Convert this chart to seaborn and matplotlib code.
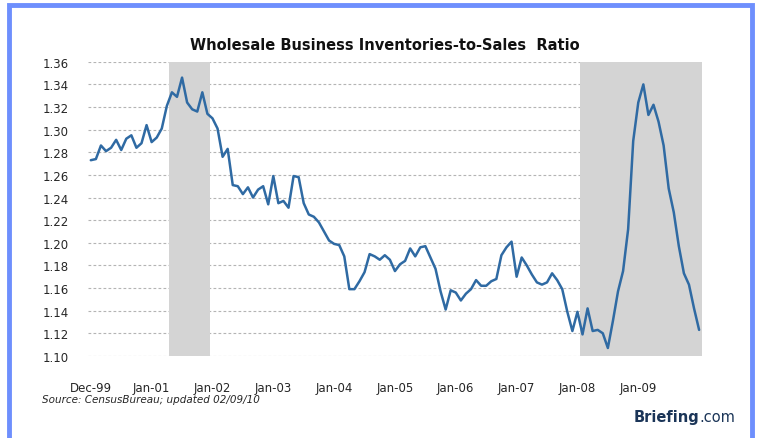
import numpy as np
import pandas as pd
import seaborn as sns
import matplotlib.pyplot as plt
from matplotlib.patches import Rectangle

# Monthly ratio, Dec-99 .. Dec-09
ratio = [
    1.273, 1.274, 1.286, 1.281, 1.284, 1.291, 1.282, 1.292, 1.295, 1.284,
    1.288, 1.304, 1.289, 1.293, 1.301, 1.321, 1.333, 1.329, 1.346, 1.324,
    1.318, 1.316, 1.333, 1.314, 1.310, 1.301, 1.276, 1.283, 1.251, 1.250,
    1.243, 1.249, 1.240, 1.247, 1.250, 1.234, 1.259, 1.235, 1.237, 1.231,
    1.259, 1.258, 1.235, 1.225, 1.223, 1.218, 1.210, 1.202, 1.199, 1.198,
    1.188, 1.159, 1.159, 1.166, 1.174, 1.190, 1.188, 1.185, 1.189, 1.185,
    1.175, 1.181, 1.184, 1.195, 1.188, 1.196, 1.197, 1.187, 1.177, 1.157,
    1.141, 1.158, 1.156, 1.149, 1.155, 1.159, 1.167, 1.162, 1.162, 1.166,
    1.168, 1.189, 1.196, 1.201, 1.170, 1.187, 1.180, 1.172, 1.165, 1.163,
    1.165, 1.173, 1.167, 1.159, 1.139, 1.122, 1.139, 1.119, 1.142, 1.122,
    1.123, 1.120, 1.107, 1.131, 1.157, 1.175, 1.212, 1.290, 1.324, 1.340,
    1.313, 1.322, 1.307, 1.286, 1.248, 1.227, 1.197, 1.173, 1.163, 1.142,
    1.123,
]
months = pd.date_range("1999-12-01", periods=len(ratio), freq="MS")

tick_labels = ["Dec-99", "Jan-01", "Jan-02", "Jan-03", "Jan-04",
               "Jan-05", "Jan-06", "Jan-07", "Jan-08", "Jan-09"]

# recessions (first and last shaded month)
recession_start = ["2001-04", "2008-01"]
recession_end = ["2001-11", "2009-12"]

y_ticks = [1.10, 1.12, 1.14, 1.16, 1.18, 1.20, 1.22, 1.24, 1.26, 1.28,
           1.30, 1.32, 1.34, 1.36]


def main():
    df = pd.DataFrame({"idx": np.arange(len(ratio)), "ratio": ratio})

    sns.set_style("white")
    plt.rcParams["font.family"] = ["DejaVu Sans"]

    fig = plt.figure(figsize=(7.61, 4.39), dpi=100)
    ax = fig.add_axes([0.116, 0.187, 0.806, 0.670])

    # dashed grid sits under the recession shading
    for y in y_ticks:
        ax.axhline(y, color="#b4b4b4", lw=0.8, ls=(0, (2.5, 2)), zorder=0)

    month_pos = {m.strftime("%Y-%m"): i for i, m in enumerate(months)}
    for s, e in zip(recession_start, recession_end):
        ax.axvspan(month_pos[s] - 0.5, month_pos[e] + 0.5,
                   color="#d4d4d4", lw=0, zorder=1)

    sns.lineplot(data=df, x="idx", y="ratio", ax=ax, color="#2f6aa3",
                 lw=1.8, zorder=3)

    ax.set_xlim(-0.5, len(ratio) - 0.5)
    ax.set_ylim(1.10, 1.36)
    ax.set_yticks(y_ticks)
    ax.set_yticklabels([f"{v:.2f}" for v in y_ticks], fontsize=8.5)
    ax.set_xticks(np.arange(len(tick_labels)) * 12)
    ax.set_xticklabels(tick_labels, fontsize=8.5)
    ax.tick_params(axis="both", length=0)
    ax.tick_params(axis="y", pad=14)
    ax.tick_params(axis="x", pad=18)
    ax.set_xlabel("")
    ax.set_ylabel("")
    for sp in ax.spines.values():
        sp.set_visible(False)

    fig.text(0.506, 0.897, "Wholesale Business Inventories-to-Sales  Ratio",
             ha="center", va="center", fontsize=10.5, fontweight="bold",
             color="#111111")
    fig.text(0.055, 0.088, "Source: CensusBureau; updated 02/09/10",
             ha="left", va="center", fontsize=7.5, style="italic")
    brief = fig.text(0.832, 0.050, "Briefing", ha="left", va="center",
                     fontsize=10.5, fontweight="bold", color="#1b3558")
    fig.draw_without_rendering()
    ax.annotate(".com", xy=(1, 0.5), xycoords=brief, ha="left",
                va="center", fontsize=10.5, color="#1b3558",
                annotation_clip=False)

    # blue frame
    fig.add_artist(Rectangle((9 / 761, -0.05), 743 / 761, 1.05 - 6 / 439,
                             transform=fig.transFigure, fill=False,
                             ec="#6e8ffd", lw=3.5))

    fig.savefig("out.png", dpi=100)


if __name__ == "__main__":
    main()
